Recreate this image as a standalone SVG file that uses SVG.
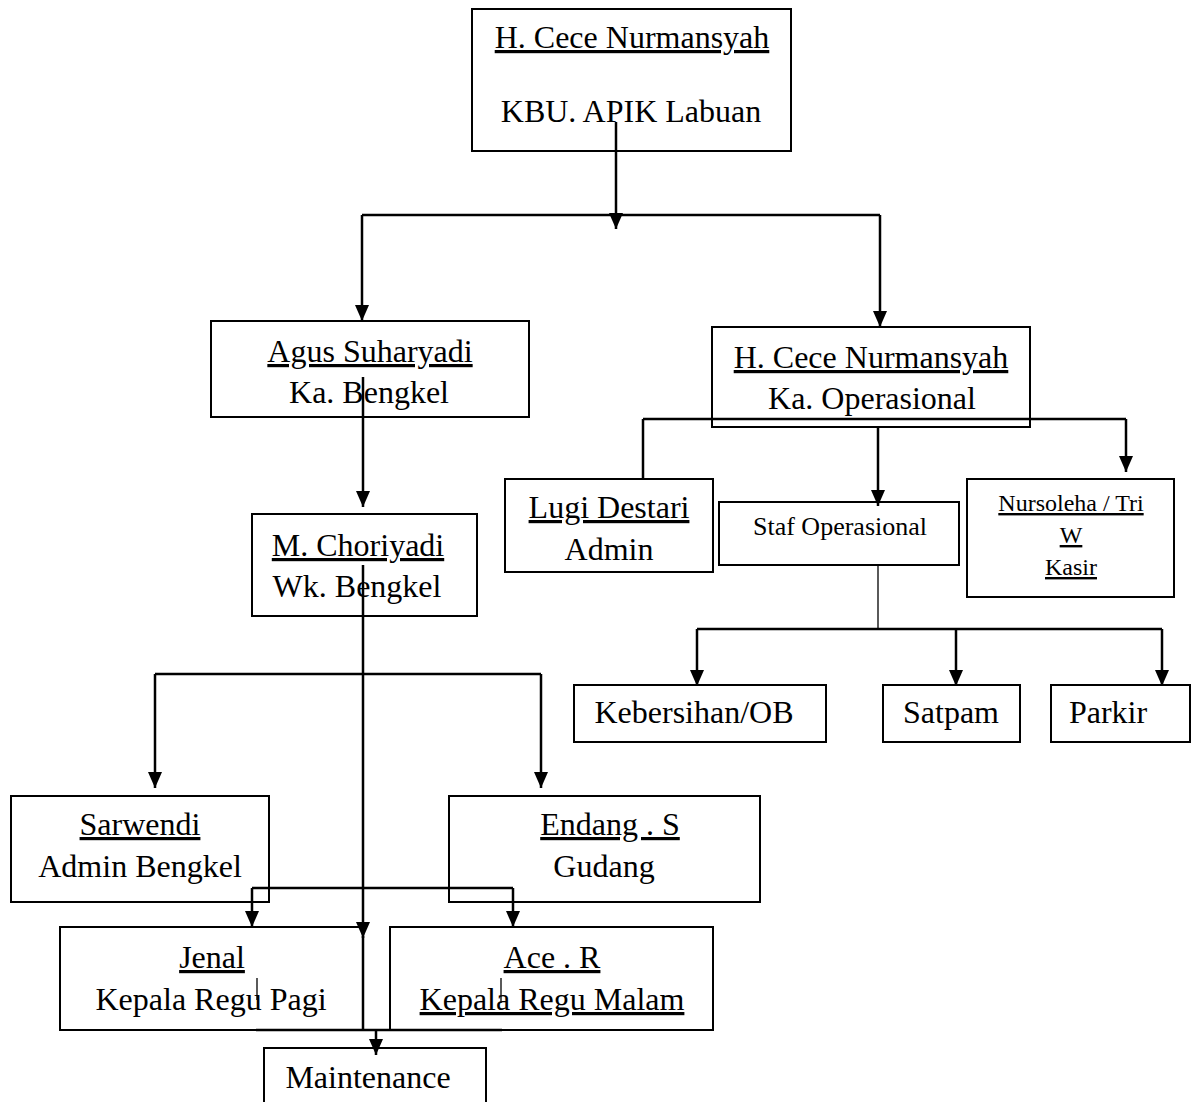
<svg xmlns="http://www.w3.org/2000/svg" width="1194" height="1102" viewBox="0 0 1194 1102">
<style>
.box{fill:#fff;stroke:#000;stroke-width:2}
.t{font-family:"Liberation Serif","Times New Roman",serif;font-size:32px;fill:#000;text-anchor:middle}
.s{font-size:26px}
.xs{font-size:24px}
.u{text-decoration:underline}
.c{fill:none;stroke:#000;stroke-width:2.5}
.thin{fill:none;stroke:#000;stroke-width:1.3}
</style>
<defs>
<marker id="ah" markerUnits="userSpaceOnUse" markerWidth="16" markerHeight="16" viewBox="0 0 16 16" refX="16" refY="8" orient="auto">
<path d="M0,1 L16,8 L0,15 Z" fill="#000"/>
</marker>
</defs>
<rect x="0" y="0" width="1194" height="1102" fill="#fff"/>

<g id="n-top"><rect class="box" x="472" y="9" width="319" height="142"/>
<text class="t u" x="632" y="48">H. Cece Nurmansyah</text>
<text class="t" x="631" y="122">KBU. APIK Labuan</text></g>

<g id="n-agus"><rect class="box" x="211" y="321" width="318" height="96"/>
<text class="t u" x="370" y="362">Agus Suharyadi</text>
<text class="t" x="369" y="403">Ka. Bengkel</text></g>

<g id="n-kaops"><rect class="box" x="712" y="327" width="318" height="100"/>
<text class="t u" x="871" y="368">H. Cece Nurmansyah</text>
<text class="t" x="872" y="409">Ka. Operasional</text></g>

<g id="n-chori"><rect class="box" x="252" y="514" width="225" height="102"/>
<text class="t u" x="358" y="556">M. Choriyadi</text>
<text class="t" x="357" y="597">Wk. Bengkel</text></g>

<g id="n-lugi"><rect class="box" x="505" y="479" width="208" height="93"/>
<text class="t u" x="609" y="518">Lugi Destari</text>
<text class="t" x="609" y="560">Admin</text></g>

<g id="n-staf"><rect class="box" x="719" y="502" width="240" height="63"/>
<text class="t s" x="840" y="535">Staf Operasional</text></g>

<g id="n-kasir"><rect class="box" x="967" y="479" width="207" height="118"/>
<text class="t xs u" x="1071" y="511">Nursoleha / Tri</text>
<text class="t xs u" x="1071" y="543">W</text>
<text class="t xs u" x="1071" y="575">Kasir</text></g>

<g id="n-keber"><rect class="box" x="574" y="685" width="252" height="57"/>
<text class="t" x="694" y="723">Kebersihan/OB</text></g>

<g id="n-satpam"><rect class="box" x="883" y="685" width="137" height="57"/>
<text class="t" x="951" y="723">Satpam</text></g>

<g id="n-parkir"><rect class="box" x="1051" y="685" width="139" height="57"/>
<text class="t" x="1108" y="723">Parkir</text></g>

<g id="n-sarwendi"><rect class="box" x="11" y="796" width="258" height="106"/>
<text class="t u" x="140" y="835">Sarwendi</text>
<text class="t" x="140" y="877">Admin Bengkel</text></g>

<g id="n-endang"><rect class="box" x="449" y="796" width="311" height="106"/>
<text class="t u" x="610" y="835">Endang . S</text>
<text class="t" x="604" y="877">Gudang</text></g>

<g id="n-jenal"><rect class="box" x="60" y="927" width="303" height="103"/>
<text class="t u" x="212" y="968">Jenal</text>
<text class="t" x="211" y="1010">Kepala Regu Pagi</text></g>

<g id="n-ace"><rect class="box" x="390" y="927" width="323" height="103"/>
<text class="t u" x="552" y="968">Ace . R</text>
<text class="t u" x="552" y="1010">Kepala Regu Malam</text></g>

<g id="n-maint"><rect class="box" x="264" y="1048" width="222" height="70"/>
<text class="t" x="368" y="1088">Maintenance</text></g>

<g id="connectors">
<line class="c" x1="616" y1="122" x2="616" y2="229" marker-end="url(#ah)"/>
<line class="c" x1="362" y1="215" x2="880" y2="215"/>
<line class="c" x1="362" y1="215" x2="362" y2="321" marker-end="url(#ah)"/>
<line class="c" x1="880" y1="215" x2="880" y2="327" marker-end="url(#ah)"/>
<line class="c" x1="363" y1="377" x2="363" y2="507" marker-end="url(#ah)"/>
<line class="c" x1="363" y1="565" x2="363" y2="938" marker-end="url(#ah)"/>
<line class="c" x1="363" y1="936" x2="363" y2="1030"/>
<line class="c" x1="155" y1="674" x2="541" y2="674"/>
<line class="c" x1="155" y1="674" x2="155" y2="788" marker-end="url(#ah)"/>
<line class="c" x1="541" y1="674" x2="541" y2="788" marker-end="url(#ah)"/>
<line class="c" x1="252" y1="888" x2="513" y2="888"/>
<line class="c" x1="252" y1="888" x2="252" y2="927" marker-end="url(#ah)"/>
<line class="c" x1="513" y1="888" x2="513" y2="927" marker-end="url(#ah)"/>
<line class="thin" x1="257" y1="978" x2="257" y2="1000"/>
<line class="thin" x1="501" y1="978" x2="501" y2="1003"/>
<line class="c" x1="256" y1="1030" x2="502" y2="1030"/>
<line class="c" x1="376" y1="1030" x2="376" y2="1055" marker-end="url(#ah)"/>
<line class="c" x1="643" y1="419" x2="1126" y2="419"/>
<line class="c" x1="643" y1="419" x2="643" y2="479"/>
<line class="c" x1="1126" y1="419" x2="1126" y2="472" marker-end="url(#ah)"/>
<line class="c" x1="878" y1="427" x2="878" y2="506" marker-end="url(#ah)"/>
<line class="thin" x1="878" y1="565" x2="878" y2="629"/>
<line class="c" x1="697" y1="629" x2="1162" y2="629"/>
<line class="c" x1="697" y1="629" x2="697" y2="686" marker-end="url(#ah)"/>
<line class="c" x1="956" y1="629" x2="956" y2="686" marker-end="url(#ah)"/>
<line class="c" x1="1162" y1="629" x2="1162" y2="686" marker-end="url(#ah)"/>
</g>
</svg>
